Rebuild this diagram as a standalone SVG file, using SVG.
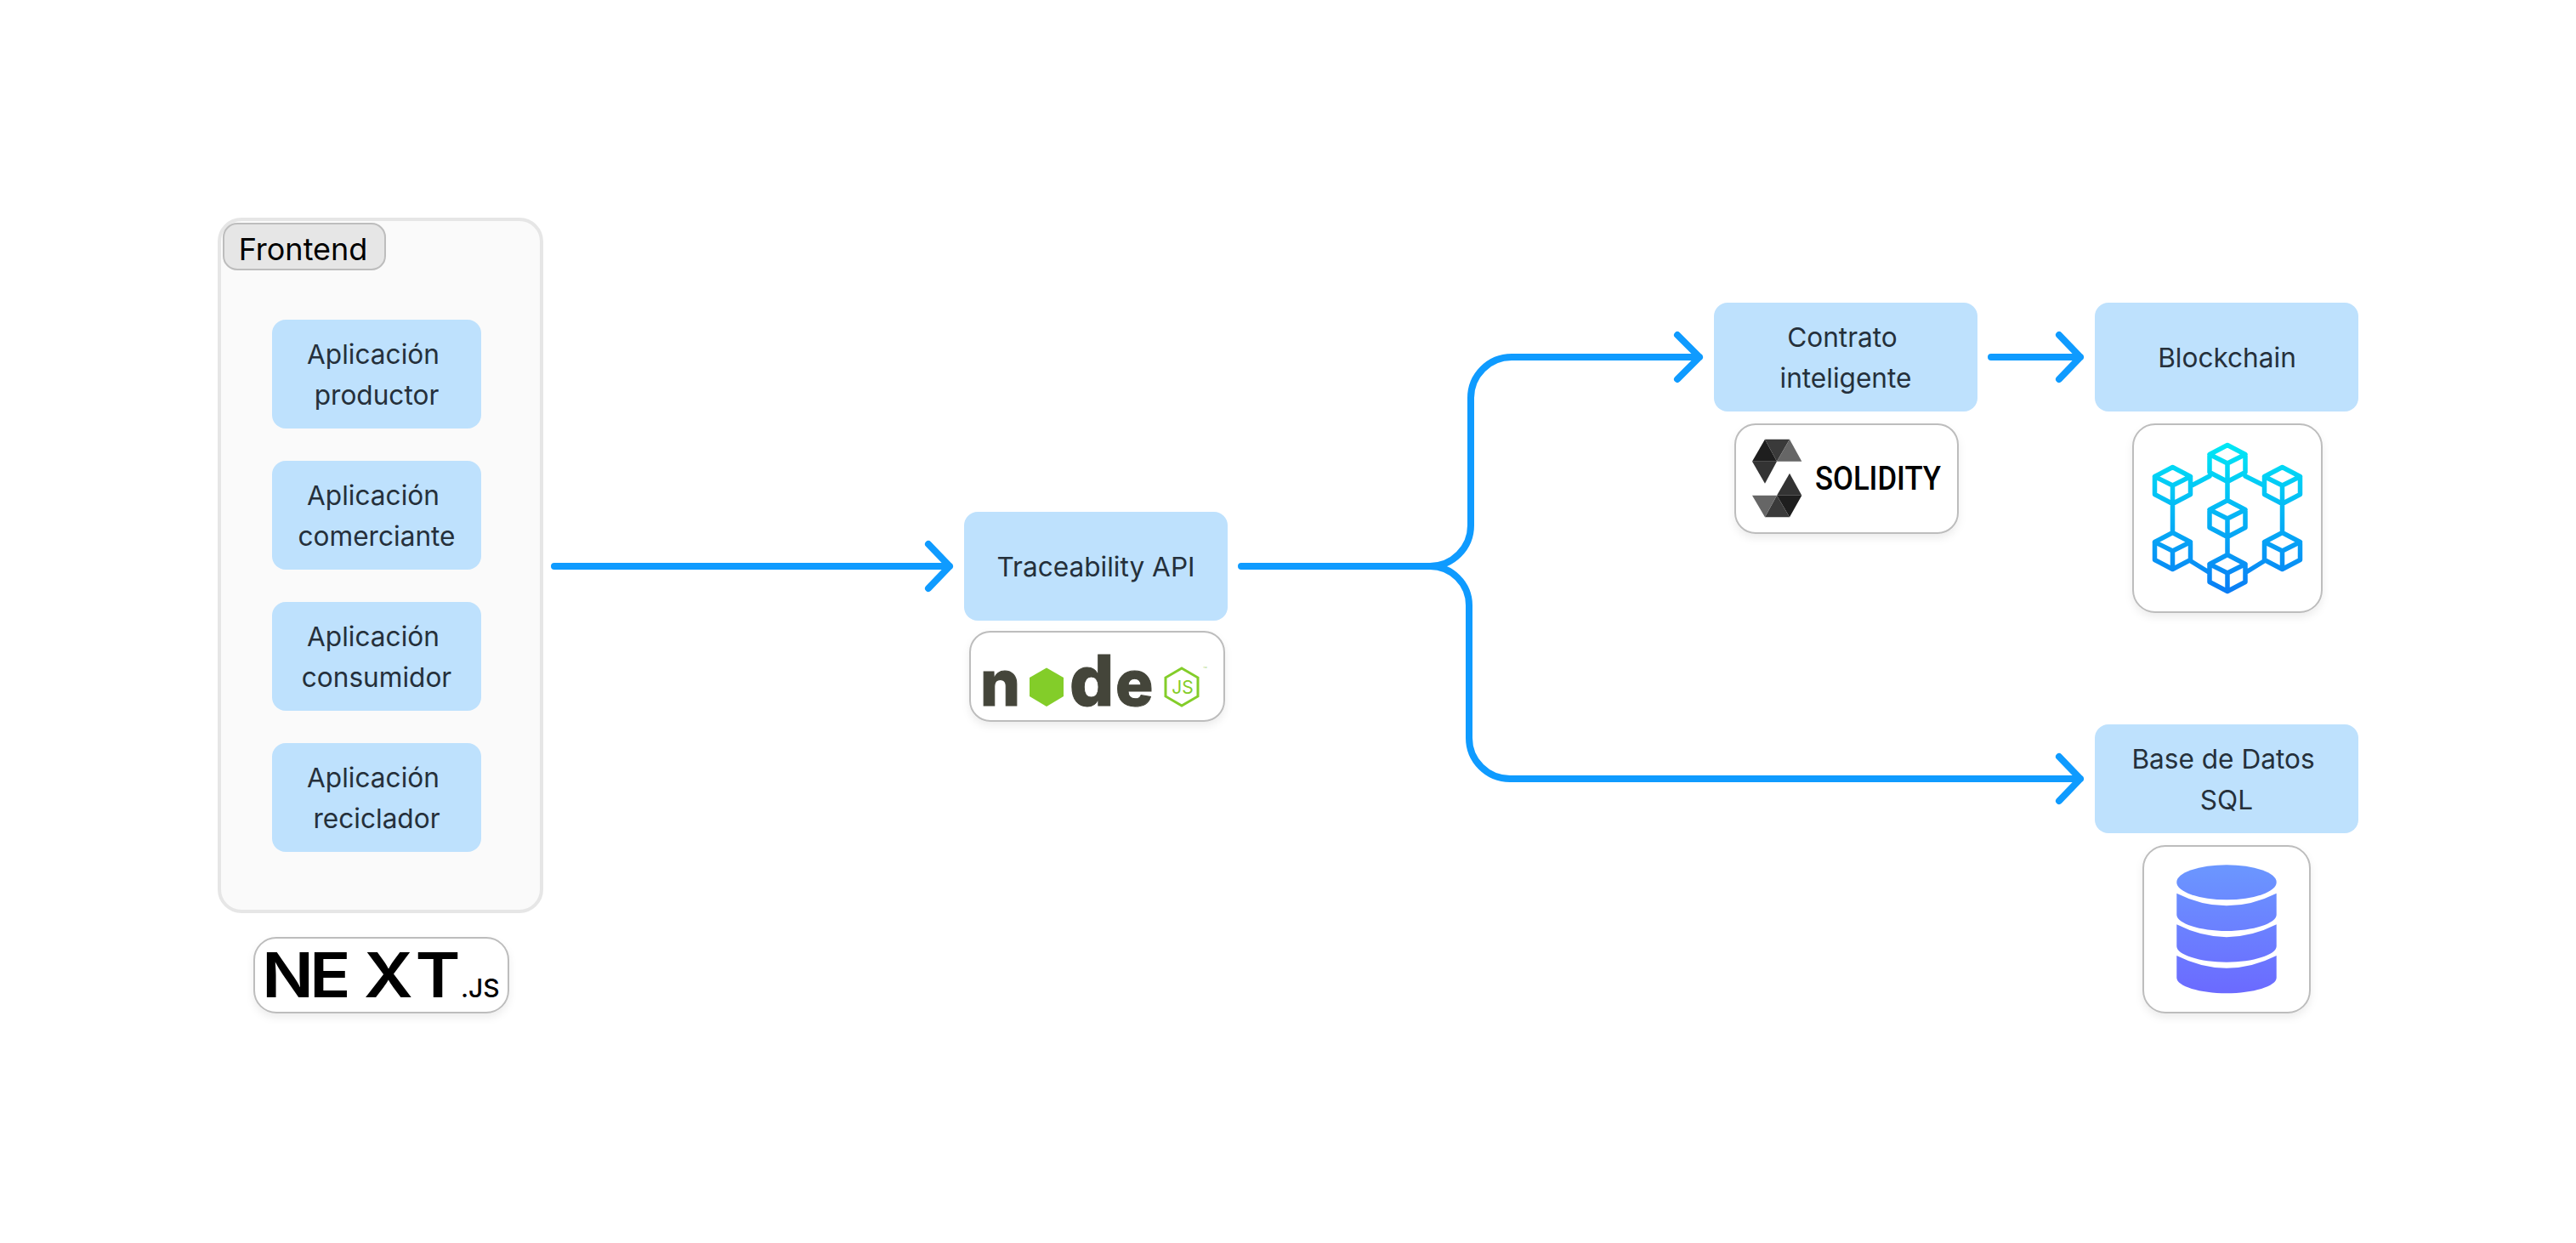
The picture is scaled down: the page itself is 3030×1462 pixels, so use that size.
<svg xmlns="http://www.w3.org/2000/svg" width="3030" height="1462" viewBox="0 0 3030 1462">
<style>
text{font-family:"Inter","Noto Sans","Liberation Sans",sans-serif}
.n{fill:#bee1fd}
.t{font-size:31.6px;fill:#25303b;text-anchor:middle}
.b{fill:#fff;stroke:#bdbdbd;stroke-width:2;filter:url(#sh)}
.c{fill:none;stroke:#0f9bff;stroke-width:8;stroke-linecap:round;stroke-linejoin:round}
.k{fill:none;stroke:url(#cg);stroke-width:5.5;stroke-linejoin:round;stroke-linecap:round}
</style>
<defs>
<filter id="sh" x="-20%" y="-20%" width="140%" height="150%"><feDropShadow dx="0" dy="5" stdDeviation="5" flood-color="#000" flood-opacity=".07"/></filter>
<linearGradient id="cg" gradientUnits="userSpaceOnUse" x1="0" y1="522" x2="0" y2="698"><stop offset="0" stop-color="#00e8f5"/><stop offset="1" stop-color="#0a7cf5"/></linearGradient>
<linearGradient id="dg" gradientUnits="userSpaceOnUse" x1="0" y1="1017" x2="0" y2="1169"><stop offset="0" stop-color="#6b97ff"/><stop offset="1" stop-color="#6b6aff"/></linearGradient>
</defs>
<rect width="3030" height="1462" fill="#fff"/>

<g id="frontend">
<rect x="258" y="258" width="379" height="814" rx="26" fill="#fafafa" stroke="#e6e6e6" stroke-width="4"/>
<rect x="263" y="263" width="190" height="54" rx="16" fill="#e6e6e6" stroke="#bdbdbd" stroke-width="2"/>
<text x="356.5" y="306" font-size="36" fill="#000" text-anchor="middle">Frontend</text>
</g>
<g id="app-productor"><rect class="n" x="320" y="376" width="246" height="128" rx="16"/><text class="t" x="439" y="428">Aplicación</text><text class="t" x="443" y="476">productor</text></g>
<g id="app-comerciante"><rect class="n" x="320" y="542" width="246" height="128" rx="16"/><text class="t" x="439" y="594">Aplicación</text><text class="t" x="443" y="642">comerciante</text></g>
<g id="app-consumidor"><rect class="n" x="320" y="708" width="246" height="128" rx="16"/><text class="t" x="439" y="760">Aplicación</text><text class="t" x="443" y="808">consumidor</text></g>
<g id="app-reciclador"><rect class="n" x="320" y="874" width="246" height="128" rx="16"/><text class="t" x="439" y="926">Aplicación</text><text class="t" x="443" y="974">reciclador</text></g>

<g id="nextjs">
<rect class="b" x="299" y="1103" width="299" height="88" rx="26"/>
<text transform="translate(0,1173) scale(1.1,1)" font-size="73" font-weight="600" fill="#000" x="280 331 389 444">NEXT</text>
<text x="542" y="1173" font-size="30" font-weight="500" fill="#000">.JS</text>
</g>

<g id="traceability">
<rect class="n" x="1134" y="602" width="310" height="128" rx="16"/>
<text class="t" x="1289" y="678">Traceability API</text>
</g>
<g id="nodejs">
<rect class="b" x="1141" y="743" width="299" height="105" rx="24"/>
<polygon points="1231,785.5 1251,797 1251,819 1231,831 1211,819 1211,797" fill="#83cd29"/>
<text transform="translate(1158,830)" font-size="74" font-weight="800" fill="#44453a" stroke="#44453a" stroke-width="1" x="-5 60 100 154">n<tspan fill="#83cd29" stroke="#83cd29" font-size="40" dy="-8">o</tspan><tspan font-size="82" dy="8">d</tspan><tspan>e</tspan></text>
<polygon points="1390,786 1409,797 1409,819 1390,830 1371,819 1371,797" fill="none" stroke="#83cd29" stroke-width="3"/>
<text x="1391" y="816" font-size="21" fill="#83cd29" text-anchor="middle">JS</text>
<text x="1415" y="790" font-size="8" fill="#b6d98a">™</text>
</g>

<g id="contrato">
<rect class="n" x="2016" y="356" width="310" height="128" rx="16"/>
<text class="t" x="2167" y="408">Contrato</text><text class="t" x="2171" y="456">inteligente</text>
</g>
<g id="solidity">
<rect class="b" x="2041" y="499" width="262" height="128" rx="24"/>
<g transform="translate(2000,340) scale(.3333)">
<polygon points="228,530 183,608 270,608" fill="#1e1e1e"/>
<polygon points="228,530 315,530 270,608" fill="#3a3a3a"/>
<polygon points="315,530 358,608 270,608" fill="#666"/>
<polygon points="183,608 270,608 228,686" fill="#333"/>
<polygon points="315,650 270,728 358,728" fill="#333"/>
<polygon points="270,728 358,728 315,805" fill="#1e1e1e"/>
<polygon points="270,728 315,805 228,805" fill="#3a3a3a"/>
<polygon points="183,728 270,728 228,805" fill="#666"/>
</g>
<text x="2135" y="576" font-size="38" font-weight="500" fill="#000" style="font-family:Roboto,sans-serif" textLength="148" lengthAdjust="spacingAndGlyphs">SOLIDITY</text>
</g>

<g id="blockchain">
<rect class="n" x="2464" y="356" width="310" height="128" rx="16"/>
<text class="t" x="2619.500" y="432">Blockchain</text>
</g>
<g id="blockchain-icon">
<rect class="b" x="2509" y="499" width="222" height="221" rx="26"/>
<path class="k" d="M2620 523.500l21 11v21l-21 11l-21-11v-21zM2599 534.500l21 10.500l21-10.500m-21 10.500v21.500
M2555.500 549.500l21 11v21l-21 11l-21-11v-21zM2534.500 560.500l21 10.500l21-10.500m-21 10.500v21.500
M2684.500 549.500l21 11v21l-21 11l-21-11v-21zM2663.500 560.500l21 10.500l21-10.500m-21 10.500v21.500
M2620 588.500l21 11v21l-21 11l-21-11v-21zM2599 599.500l21 10.500l21-10.500m-21 10.500v21.500
M2555.500 626.500l21 11v21l-21 11l-21-11v-21zM2534.500 637.500l21 10.500l21-10.500m-21 10.500v21.500
M2684.500 626.500l21 11v21l-21 11l-21-11v-21zM2663.500 637.500l21 10.500l21-10.500m-21 10.500v21.500
M2620 652.500l21 11v21l-21 11l-21-11v-21zM2599 663.500l21 10.500l21-10.500m-21 10.500v21.500
M2578 571L2599 560M2641 560L2663 571M2620 567V589M2555.500 593V627M2684.500 593V627M2620 632V653M2577 660L2598 673M2642 673L2663 660"/>
</g>

<g id="database">
<rect class="n" x="2464" y="852" width="310" height="128" rx="16"/>
<text class="t" x="2615" y="904">Base de Datos</text><text class="t" x="2619" y="952">SQL</text>
</g>
<g id="database-icon">
<rect class="b" x="2521" y="995" width="196" height="196" rx="26"/>
<g fill="url(#dg)">
<ellipse cx="2619" cy="1037.700" rx="58.700" ry="20.500"/>
<path d="M2560.300 1050.700Q2619 1080 2677.700 1050.700V1076C2677.700 1086 2650 1095 2619 1095S2560.300 1086 2560.300 1076Z"/>
<path d="M2560.300 1087.300Q2619 1117 2677.700 1087.300V1113C2677.700 1123 2650 1131.700 2619 1131.700S2560.300 1123 2560.300 1113Z"/>
<path d="M2560.300 1124Q2619 1153.500 2677.700 1124V1150C2677.700 1160 2650 1168.300 2619 1168.300S2560.300 1160 2560.300 1150Z"/>
</g>
</g>

<g id="connectors">
<path class="c" d="M652 666H1117M1092 640L1117 666L1092 692"/>
<path class="c" d="M1460 666H1682A48 48 0 0 0 1730 618V468A48 48 0 0 1 1778 420H1999M1973 394L1999 420L1973 446"/>
<path class="c" d="M1682 666A46 46 0 0 1 1728 712V868A48 48 0 0 0 1776 916H2447M2422 890L2447 916L2422 942"/>
<path class="c" d="M2342 420H2447M2422 394L2447 420L2422 446"/>
</g>
</svg>
